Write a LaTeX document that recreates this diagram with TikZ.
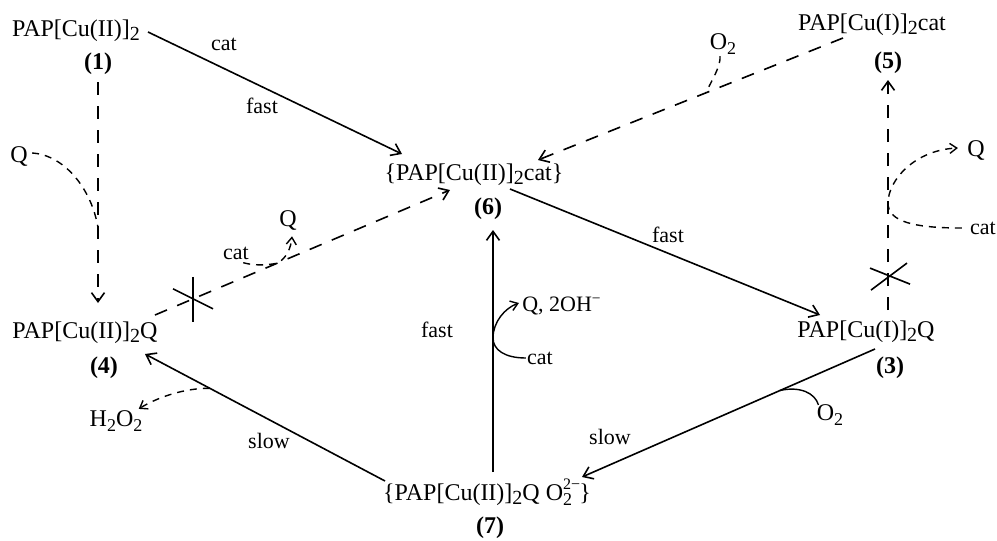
\documentclass[tikz,border=0pt]{standalone}
\usepackage{fontspec}
\setmainfont{Liberation Serif}
\usetikzlibrary{arrows.meta,calc}
\newcommand\sbt[1]{\raisebox{-0.45ex}{\fontsize{10}{10}\selectfont #1}}
\newcommand\chsub[1]{\raisebox{-0.5ex}{\fontsize{9}{9}\selectfont #1}}
\newcommand\chsup[1]{\raisebox{0.95ex}{\fontsize{8}{8}\selectfont #1}}
\begin{document}
\begin{tikzpicture}[x=0.5pt,y=-0.5pt,
  formula/.style={inner sep=0pt,anchor=base,font=\fontsize{12}{14}\selectfont},
  num/.style={inner sep=0pt,font=\fontsize{12}{14}\selectfont\bfseries},
  lbl/.style={inner sep=0pt,font=\fontsize{11}{13}\selectfont},
  spec/.style={inner sep=0pt,font=\fontsize{12}{14}\selectfont},
  conn/.style={line width=0.8pt,-{Straight Barb[length=4.5pt,width=6.5pt]}},
  dconn/.style={conn,dash pattern=on 6.5pt off 5.5pt},
  side/.style={line width=0.7pt,dash pattern=on 3.5pt off 3pt},
  sidearr/.style={side,-{Straight Barb[length=3.5pt,width=5pt]}},
  solidside/.style={line width=0.7pt},
  solidarr/.style={solidside,-{Straight Barb[length=3.5pt,width=5pt]}},
  block/.style={line width=0.8pt}]
\useasboundingbox (0,0) rectangle (997,541);
% species
\node[formula] (n1) at (76,36) {PAP[Cu(II)]\sbt{2}};
\node[num] (l1) at (98,64) {(1)};
\node[formula] (n6) at (474,180) {\{PAP[Cu(II)]\sbt{2}cat\}};
\node[num] (l6) at (488,209) {(6)};
\node[formula] (n5) at (872,30) {PAP[Cu(I)]\sbt{2}cat};
\node[num] (l5) at (888,63) {(5)};
\node[formula] (n4) at (85,338) {PAP[Cu(II)]\sbt{2}Q};
\node[num] (l4) at (104,368) {(4)};
\node[formula] (n3) at (866,337) {PAP[Cu(I)]\sbt{2}Q};
\node[num] (l3) at (890,368) {(3)};
\node[formula] (n7) at (487,500) {\{PAP[Cu(II)]\sbt{2}Q O\rlap{\chsup{2−}}\chsub{2}\hspace{0.3em}\}};
\node[num] (l7) at (490,528) {(7)};
% labels
\node[lbl] (c1) at (224,44) {cat};
\node[lbl] (f1) at (262,106) {fast};
\node[spec] (o2a) at (723,44) {O\chsub{2}};
\node[spec] (qr) at (976,150) {Q};
\node[lbl] (cr) at (983,228) {cat};
\node[spec] (ql) at (19,156) {Q};
\node[lbl] (cm) at (236,253) {cat};
\node[spec] (qm) at (288,220) {Q};
\node[lbl] (f2) at (668,235) {fast};
\node[lbl] (f3) at (437,330) {fast};
\node[lbl] (qoh) at (562,306) {Q, 2OH\textsuperscript{−}};
\node[lbl] (cv) at (540,358) {cat};
\node[lbl] (s1) at (610,437) {slow};
\node[spec] (o2b) at (830,415) {O\chsub{2}};
\node[lbl] (s2) at (269,441) {slow};
\node[spec] (h2o2) at (116,421) {H\chsub{2}O\chsub{2}};
% main connectors
\draw[conn] ($(n1.base)+(72,-4)$) -- ($(n6.base)+(-72,-26)$);
\draw[dconn] ($(n5.base)+(-29,8)$) -- coordinate[pos=0.45] (jo2a) ($(n6.base)+(64,-20)$);
\draw[conn] ($(n6.base)+(36,9)$) -- ($(n3.base)+(-46,-22)$);
\draw[conn] ($(n3.base)+(9,12)$) -- coordinate[pos=0.324] (jo2b) ($(n7.base)+(95,-23)$);
\draw[conn] ($(n7.base)+(-102,-19)$) -- coordinate[pos=0.73] (jh) ($(n4.base)+(60,16)$);
\draw[conn] ($(n7.base)+(6,-28)$) -- coordinate[pos=0.554] (jv) ($(n6.base)+(19,50)$);
\draw[dconn] ($(n1.base)+(22,46)$) -- coordinate[pos=0.66] (jq) ($(n4.base)+(13,-35)$);
\draw[dconn] ($(n4.base)+(70,-23)$) -- coordinate[pos=0.129] (x1) coordinate[pos=0.414] (jc) ($(n6.base)+(-24,10)$);
\draw[dconn] ($(n3.base)+(22,-27)$) -- coordinate[pos=0.143] (x2) coordinate[pos=0.465] (jr) ($(n5.base)+(16,50)$);
% blocking crosses
\draw[block] ($(x1)+(0,-22)$) -- ($(x1)+(0,23)$);
\draw[block] ($(x1)+(-20,-10)$) -- ($(x1)+(20,10)$);
\draw[block] ($(x2)+(-18,-9)$) -- ($(x2)+(22,7)$);
\draw[block] ($(x2)+(-17,13)$) -- ($(x2)+(19,-14)$);
% side branches
\draw[side] ($(o2a.south)+(-3,1)$) .. controls (721,66) and (712,80) .. (jo2a);
\draw[sidearr] (jh) .. controls (185,388) and (158,397) .. ($(h2o2.north east)+(-4,-1)$);
\draw[solidside] (jo2b) .. controls (800,386) and (815,393) .. ($(o2b.north west)+(2,1)$);
\draw[solidarr] ($(cv.west)+(-1,0)$) .. controls (505,358) and (493,350) .. (jv) .. controls (493,322) and (505,308) .. ($(qoh.west)+(-3,-3)$);
\draw[side] ($(ql.east)+(4,-3)$) .. controls (65,155) and (92,190) .. (jq);
\draw[sidearr] ($(cm.south east)+(-6,3)$) .. controls (255,266) and (268,265) .. (jc) .. controls (286,259) and (291,248) .. ($(qm.south)+(4,6)$);
\draw[sidearr] ($(cr.west)+(-8,0)$) .. controls (915,228) and (888,222) .. (jr) .. controls (888,180) and (915,150) .. ($(qr.west)+(-9,-2)$);
\end{tikzpicture}
\end{document}
